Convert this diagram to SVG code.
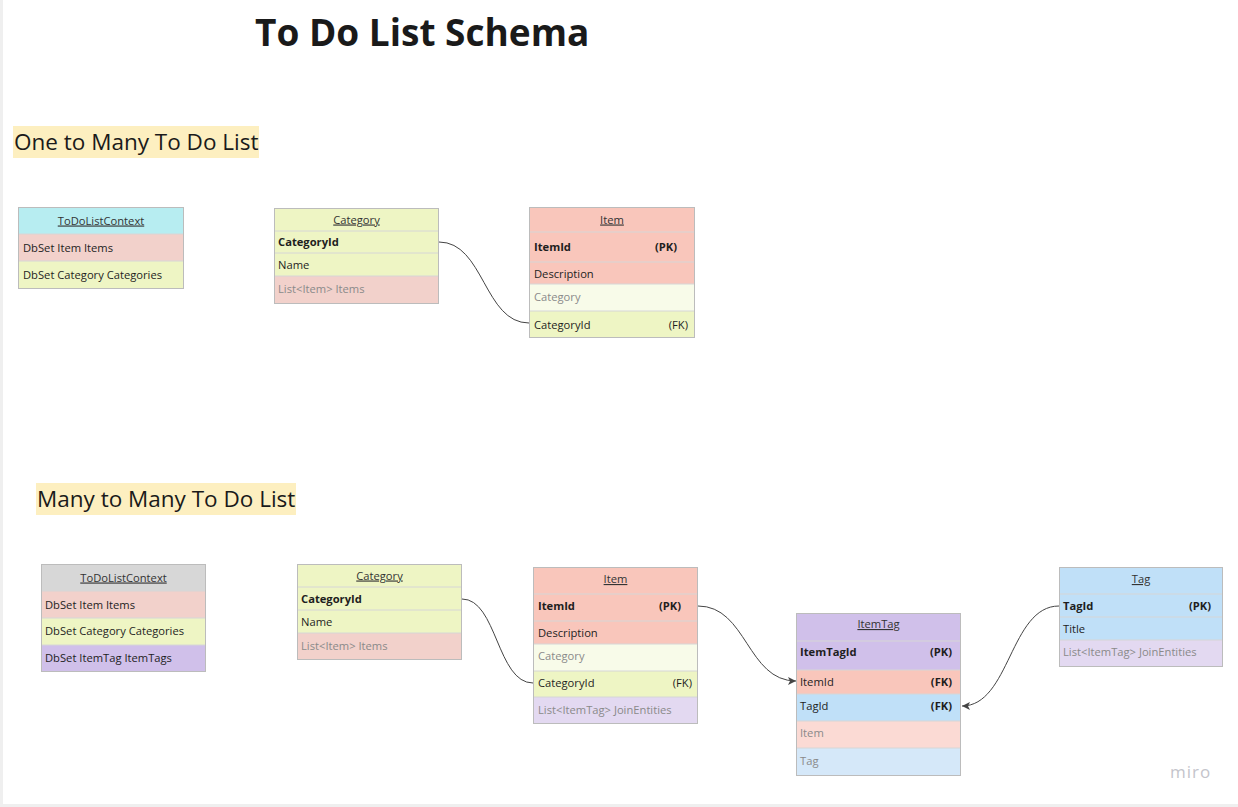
<svg xmlns="http://www.w3.org/2000/svg" width="1238" height="807" viewBox="0 0 1238 807">
<defs>
<style>
text{font-family:"Open Sans","Noto Sans","Liberation Sans",sans-serif;font-size:11.2px;fill:#1e1e1e}
.hd{text-anchor:middle;text-decoration:underline;fill:#333}
.b{font-weight:bold}
.g{fill:#8a8a8a}
.e{text-anchor:end}
.box{fill:none;stroke:#bcbcbc;stroke-width:1}
.sep{stroke:#d6d6d6;stroke-width:1}
.cyan{fill:#b7edf1}
.pink{fill:#f2d1cb}
.green{fill:#eef5c4}
.lgreen{fill:#f8fbe9}
.salmon{fill:#f9c6bb}
.purple{fill:#d0c0ea}
.lpurple{fill:#e3d9f1}
.gray{fill:#d7d7d7}
.blue{fill:#c0e0f8}
.lpink{fill:#fbdad4}
.lblue{fill:#d5e8f9}
.conn{fill:none;stroke:#444;stroke-width:1}
.title{font-size:37px;font-weight:bold;fill:#1a1a1a}
.h2{font-size:22.5px;fill:#1a1a1a}
.hl{fill:#fdefc0}
</style>
<marker id="arr" markerUnits="userSpaceOnUse" markerWidth="9" markerHeight="9" refX="8" refY="4" orient="auto">
<path d="M0,0 L8,4 L0,8 L2,4 z" fill="#444"/>
</marker>
</defs>
<rect x="0" y="0" width="1238" height="807" fill="#ffffff"/>
<rect x="0" y="0" width="3" height="807" fill="#efefef"/>
<rect x="0" y="804" width="1238" height="3" fill="#efefef"/>

<g id="title"><text class="title" x="255" y="46">To Do List Schema</text></g>
<g id="heading1"><rect class="hl" x="13" y="126" width="246" height="32"/><text class="h2" x="14" y="150">One to Many To Do List</text></g>
<g id="heading2"><rect class="hl" x="36" y="483" width="260" height="32"/><text class="h2" x="37" y="507">Many to Many To Do List</text></g>

<g id="connectors">
<path class="conn" d="M439,242 C484,242 484,323 529,323"/>
<path class="conn" d="M462,599 C497,599 497,683 533,683"/>
<path class="conn" d="M698,606 C747,606 747,681 796,681" marker-end="url(#arr)"/>
<path class="conn" d="M1059,606 C1010,606 1010,706 962,706" marker-end="url(#arr)"/>
</g>

<g id="ctx1">
<rect class="cyan" x="18" y="207" width="166" height="27"/>
<rect class="pink" x="18" y="234" width="166" height="27"/>
<rect class="green" x="18" y="261" width="166" height="27"/>
<line class="sep" x1="18" y1="234" x2="184" y2="234"/><line class="sep" x1="18" y1="261" x2="184" y2="261"/>
<rect class="box" x="18.5" y="207.5" width="165" height="81"/>
<text class="hd" x="101" y="224.5">ToDoListContext</text>
<text x="23" y="251.5">DbSet Item Items</text>
<text x="23" y="278.5">DbSet Category Categories</text>
</g>

<g id="category1">
<rect class="green" x="274" y="208" width="165" height="68"/>
<rect class="pink" x="274" y="276" width="165" height="27"/>
<line class="sep" x1="274" y1="231" x2="439" y2="231"/><line class="sep" x1="274" y1="253" x2="439" y2="253"/><line class="sep" x1="274" y1="276" x2="439" y2="276"/>
<rect class="box" x="274.5" y="208.5" width="164" height="95"/>
<text class="hd" x="356.5" y="223.5">Category</text>
<text class="b" x="278" y="246">CategoryId</text>
<text x="278" y="269">Name</text>
<text class="g" x="278" y="293">List&lt;Item&gt; Items</text>
</g>

<g id="item1">
<rect class="salmon" x="529" y="207" width="166" height="77"/>
<rect class="lgreen" x="529" y="284" width="166" height="27"/>
<rect class="green" x="529" y="311" width="166" height="27"/>
<line class="sep" x1="529" y1="232" x2="695" y2="232"/><line class="sep" x1="529" y1="262" x2="695" y2="262"/><line class="sep" x1="529" y1="284" x2="695" y2="284"/><line class="sep" x1="529" y1="311" x2="695" y2="311"/>
<rect class="box" x="529.5" y="207.5" width="165" height="130"/>
<text class="hd" x="612" y="223.5">Item</text>
<text class="b" x="534" y="251">ItemId</text><text class="b e" x="677" y="251">(PK)</text>
<text x="534" y="277.5">Description</text>
<text class="g" x="534" y="301">Category</text>
<text x="534" y="328.5">CategoryId</text><text class="e" x="688" y="328.5">(FK)</text>
</g>

<g id="ctx2">
<rect class="gray" x="41" y="564" width="165" height="27"/>
<rect class="pink" x="41" y="591" width="165" height="27"/>
<rect class="green" x="41" y="618" width="165" height="27"/>
<rect class="purple" x="41" y="645" width="165" height="27"/>
<line class="sep" x1="41" y1="591" x2="206" y2="591"/><line class="sep" x1="41" y1="618" x2="206" y2="618"/><line class="sep" x1="41" y1="645" x2="206" y2="645"/>
<rect class="box" x="41.5" y="564.5" width="164" height="107"/>
<text class="hd" x="123.5" y="581.5">ToDoListContext</text>
<text x="45" y="608.5">DbSet Item Items</text>
<text x="45" y="635">DbSet Category Categories</text>
<text x="45" y="662">DbSet ItemTag ItemTags</text>
</g>

<g id="category2">
<rect class="green" x="297" y="564" width="165" height="69"/>
<rect class="pink" x="297" y="633" width="165" height="27"/>
<line class="sep" x1="297" y1="587" x2="462" y2="587"/><line class="sep" x1="297" y1="610" x2="462" y2="610"/><line class="sep" x1="297" y1="633" x2="462" y2="633"/>
<rect class="box" x="297.5" y="564.5" width="164" height="95"/>
<text class="hd" x="379.5" y="579.5">Category</text>
<text class="b" x="301" y="602.5">CategoryId</text>
<text x="301" y="625.5">Name</text>
<text class="g" x="301" y="650">List&lt;Item&gt; Items</text>
</g>

<g id="item2">
<rect class="salmon" x="533" y="567" width="165" height="77"/>
<rect class="lgreen" x="533" y="644" width="165" height="27"/>
<rect class="green" x="533" y="671" width="165" height="26"/>
<rect class="lpurple" x="533" y="697" width="165" height="27"/>
<line class="sep" x1="533" y1="594" x2="698" y2="594"/><line class="sep" x1="533" y1="621" x2="698" y2="621"/><line class="sep" x1="533" y1="644" x2="698" y2="644"/><line class="sep" x1="533" y1="671" x2="698" y2="671"/><line class="sep" x1="533" y1="697" x2="698" y2="697"/>
<rect class="box" x="533.5" y="567.5" width="164" height="156"/>
<text class="hd" x="615.5" y="583">Item</text>
<text class="b" x="538" y="610">ItemId</text><text class="b e" x="681" y="610">(PK)</text>
<text x="538" y="636.5">Description</text>
<text class="g" x="538" y="660">Category</text>
<text x="538" y="687">CategoryId</text><text class="e" x="692" y="687">(FK)</text>
<text class="g" x="538" y="714">List&lt;ItemTag&gt; JoinEntities</text>
</g>

<g id="itemtag">
<rect class="purple" x="796" y="613" width="165" height="57"/>
<rect class="salmon" x="796" y="670" width="165" height="24"/>
<rect class="blue" x="796" y="694" width="165" height="27"/>
<rect class="lpink" x="796" y="721" width="165" height="27"/>
<rect class="lblue" x="796" y="748" width="165" height="28"/>
<line class="sep" x1="796" y1="641" x2="961" y2="641"/><line class="sep" x1="796" y1="670" x2="961" y2="670"/><line class="sep" x1="796" y1="694" x2="961" y2="694"/><line class="sep" x1="796" y1="721" x2="961" y2="721"/><line class="sep" x1="796" y1="748" x2="961" y2="748"/>
<rect class="box" x="796.5" y="613.5" width="164" height="162"/>
<text class="hd" x="878.5" y="628">ItemTag</text>
<text class="b" x="800" y="656">ItemTagId</text><text class="b e" x="952" y="656">(PK)</text>
<text x="800" y="686">ItemId</text><text class="b e" x="952" y="686">(FK)</text>
<text x="800" y="710">TagId</text><text class="b e" x="952" y="710">(FK)</text>
<text class="g" x="800" y="737">Item</text>
<text class="g" x="800" y="765">Tag</text>
</g>

<g id="tag">
<rect class="blue" x="1059" y="567" width="164" height="73"/>
<rect class="lpurple" x="1059" y="640" width="164" height="27"/>
<line class="sep" x1="1059" y1="594" x2="1223" y2="594"/><line class="sep" x1="1059" y1="617" x2="1223" y2="617"/><line class="sep" x1="1059" y1="640" x2="1223" y2="640"/>
<rect class="box" x="1059.5" y="567.5" width="163" height="99"/>
<text class="hd" x="1141" y="583">Tag</text>
<text class="b" x="1063" y="609.5">TagId</text><text class="b e" x="1211" y="609.5">(PK)</text>
<text x="1063" y="632.5">Title</text>
<text class="g" x="1063" y="656">List&lt;ItemTag&gt; JoinEntities</text>
</g>

<g id="logo"><text x="1170" y="778" style="font-size:17px;fill:#c4c4cb;letter-spacing:1px">miro</text></g>
</svg>
